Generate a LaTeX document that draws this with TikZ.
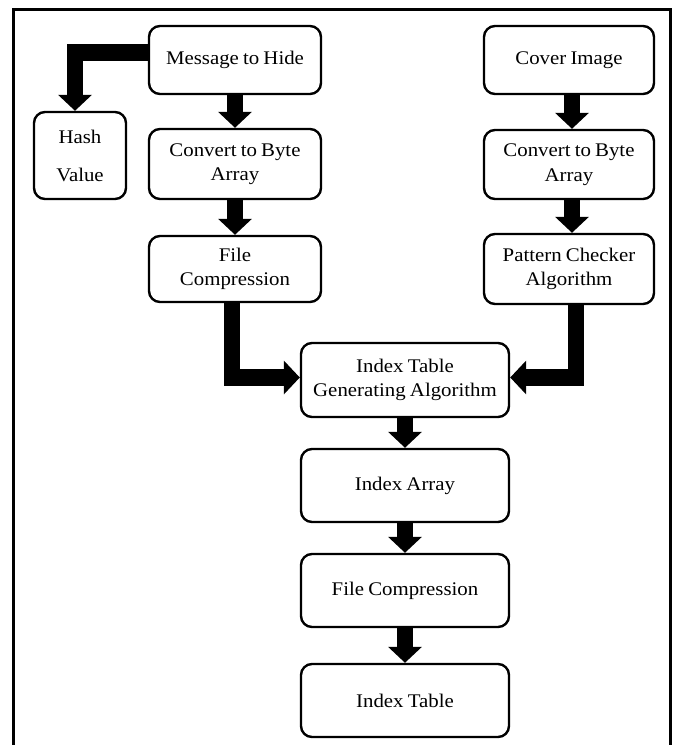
\documentclass[tikz,border=0pt]{standalone}
\usepackage{fontspec}
\setmainfont[FakeStretch=1.08,WordSpace=0.8]{Liberation Serif}
\usetikzlibrary{arrows.meta}
\begin{document}
\begin{tikzpicture}[x=1pt,y=-1pt,
  box/.style={draw, line width=2.4pt, rounded corners=11pt, align=center, inner sep=0pt,
              font=\fontsize{19.3}{24.5}\selectfont},
  bigarrow/.style={line width=16.5pt, line join=miter, -{Triangle[width=33pt,length=16pt]}},
  frame/.style={line width=3pt}]
\useasboundingbox (0,0) rectangle (674,745);
\draw[frame] (13.5,745) -- (13.5,9.5) -- (670.5,9.5) -- (670.5,745);

% left column
\node[box, minimum width=172pt, minimum height=68pt] (msg) at (235,60) {Message to Hide};
\node[box, minimum width=172pt, minimum height=70pt] (conv1) at (235,164) {Convert to Byte\\Array};
\node[box, minimum width=172pt, minimum height=66pt] (fc1) at (235,269) {File\\Compression};
\node[box, minimum width=92pt, minimum height=87pt,
      font=\fontsize{19.3}{38}\selectfont] (hash) at (80,155.5) {Hash\\Value};

% right column
\node[box, minimum width=170pt, minimum height=68pt] (cover) at (569,60) {Cover Image};
\node[box, minimum width=170pt, minimum height=69pt] (conv2) at (569,164.5) {Convert to Byte\\Array};
\node[box, minimum width=170pt, minimum height=70pt] (pat) at (569,269) {Pattern Checker\\Algorithm};

% centre column
\node[box, minimum width=208pt, minimum height=74pt] (itga) at (405,380) {Index Table\\Generating Algorithm};
\node[box, minimum width=208pt, minimum height=73pt] (ia) at (405,485.5) {Index Array};
\node[box, minimum width=208pt, minimum height=73pt] (fc2) at (405,590.5) {File Compression};
\node[box, minimum width=208pt, minimum height=73pt] (it) at (405,700.5) {Index Table};

% connectors
\draw[bigarrow] ([yshift=7.5pt]msg.west) -| ([xshift=-5pt]hash.north);
\draw[bigarrow] (msg.south) -- (conv1.north);
\draw[bigarrow] (conv1.south) -- (fc1.north);
\draw[bigarrow] ([xshift=3pt]cover.south) -- ([xshift=3pt]conv2.north);
\draw[bigarrow] ([xshift=3pt]conv2.south) -- ([xshift=3pt]pat.north);
\draw[bigarrow] ([xshift=-3pt]fc1.south) |- ([yshift=2.5pt]itga.west);
\draw[bigarrow] ([xshift=7pt]pat.south) |- ([yshift=2.5pt]itga.east);
\draw[bigarrow] (itga.south) -- (ia.north);
\draw[bigarrow] (ia.south) -- (fc2.north);
\draw[bigarrow] (fc2.south) -- (it.north);
\end{tikzpicture}
\end{document}
